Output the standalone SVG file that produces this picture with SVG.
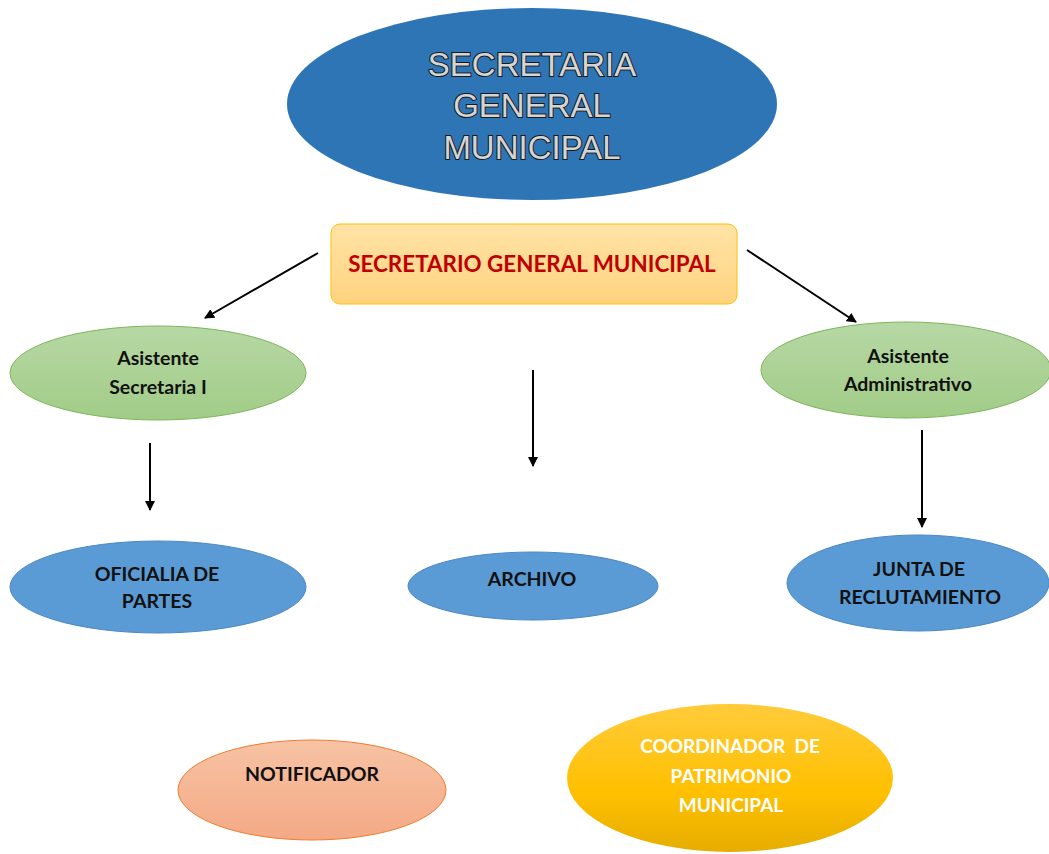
<svg xmlns="http://www.w3.org/2000/svg" width="1049" height="854" viewBox="0 0 1049 854">
  <defs>
    <linearGradient id="gOrange" x1="0" y1="0" x2="0" y2="1">
      <stop offset="0" stop-color="#FFE3A6"/>
      <stop offset="1" stop-color="#FFD37F"/>
    </linearGradient>
    <linearGradient id="gGreen" x1="0" y1="0" x2="0" y2="1">
      <stop offset="0" stop-color="#B7D8A5"/>
      <stop offset="1" stop-color="#A1CC87"/>
    </linearGradient>
    <linearGradient id="gSalmon" x1="0" y1="0" x2="0" y2="1">
      <stop offset="0" stop-color="#F7C3A4"/>
      <stop offset="1" stop-color="#F4A985"/>
    </linearGradient>
    <linearGradient id="gGold" x1="0" y1="0" x2="0" y2="1">
      <stop offset="0" stop-color="#FFCB3A"/>
      <stop offset="0.6" stop-color="#FFC000"/>
      <stop offset="1" stop-color="#E6AD00"/>
    </linearGradient>
    <marker id="arrow" viewBox="0 0 10 10" refX="9" refY="5" markerWidth="5" markerHeight="5" orient="auto" markerUnits="strokeWidth">
      <path d="M0,0 L10,5 L0,10 z" fill="#000"/>
    </marker>
  </defs>
  <style>
    .t { font-family: "Lato", "Liberation Sans", sans-serif; font-weight: bold; text-anchor: middle; }
    .dark { fill: #111; font-size: 19.5px; }
    .white { fill: #fff; font-size: 19px; }
    .title { font-family: "Liberation Sans", Arial, sans-serif; font-size: 33px; text-anchor: middle; fill: #D4D4D4; stroke: #1a1a1a; stroke-width: 2px; paint-order: stroke; }
    .blue { fill: #5B9BD5; stroke: #4A88C2; stroke-width: 1; }
    .green { fill: url(#gGreen); stroke: #7DB55A; stroke-width: 1; }
    .conn { stroke: #000; stroke-width: 2; fill: none; marker-end: url(#arrow); }
  </style>
  <rect width="1049" height="854" fill="#fff"/>

  <g id="secretaria">
    <ellipse cx="532" cy="104" rx="245" ry="96" fill="#2E75B6"/>
    <text class="title" x="532" y="76">SECRETARIA</text>
    <text class="title" x="532" y="117">GENERAL</text>
    <text class="title" x="532" y="159">MUNICIPAL</text>
  </g>

  <g id="secretario">
    <rect x="331" y="224" width="406" height="80" rx="9" fill="url(#gOrange)" stroke="#FFC000" stroke-width="1"/>
    <text class="t" x="532" y="272" fill="#C00000" font-size="22.4">SECRETARIO GENERAL MUNICIPAL</text>
  </g>

  <g id="asistente-secretaria">
    <ellipse class="green" cx="158" cy="373" rx="148" ry="47"/>
    <text class="t dark" x="158" y="365">Asistente</text>
    <text class="t dark" x="158" y="394">Secretaria I</text>
  </g>

  <g id="asistente-administrativo">
    <ellipse class="green" cx="906" cy="370" rx="145" ry="48"/>
    <text class="t dark" x="908" y="363">Asistente</text>
    <text class="t dark" x="908" y="391">Administrativo</text>
  </g>

  <g id="oficialia">
    <ellipse class="blue" cx="158" cy="587" rx="148" ry="46"/>
    <text class="t dark" x="157" y="581">OFICIALIA DE</text>
    <text class="t dark" x="157" y="608">PARTES</text>
  </g>

  <g id="archivo">
    <ellipse class="blue" cx="533" cy="586" rx="125" ry="34"/>
    <text class="t dark" x="532" y="586">ARCHIVO</text>
  </g>

  <g id="junta">
    <ellipse class="blue" cx="918" cy="583" rx="131" ry="48"/>
    <text class="t dark" x="919" y="576">JUNTA DE</text>
    <text class="t dark" x="920" y="604">RECLUTAMIENTO</text>
  </g>

  <g id="notificador">
    <ellipse cx="312" cy="790" rx="134" ry="50" fill="url(#gSalmon)" stroke="#ED7D31" stroke-width="1"/>
    <text class="t dark" x="312" y="781">NOTIFICADOR</text>
  </g>

  <g id="coordinador">
    <ellipse cx="730" cy="778" rx="163" ry="74" fill="url(#gGold)"/>
    <text class="t white" x="730" y="753" xml:space="preserve">COORDINADOR  DE</text>
    <text class="t white" x="731" y="783">PATRIMONIO</text>
    <text class="t white" x="731" y="812">MUNICIPAL</text>
  </g>

  <g id="connectors">
    <line class="conn" x1="318" y1="253" x2="205" y2="318"/>
    <line class="conn" x1="747" y1="250" x2="856" y2="322"/>
    <line class="conn" x1="533" y1="370" x2="533" y2="466"/>
    <line class="conn" x1="150" y1="443" x2="150" y2="510"/>
    <line class="conn" x1="922" y1="430" x2="922" y2="527"/>
  </g>
</svg>
